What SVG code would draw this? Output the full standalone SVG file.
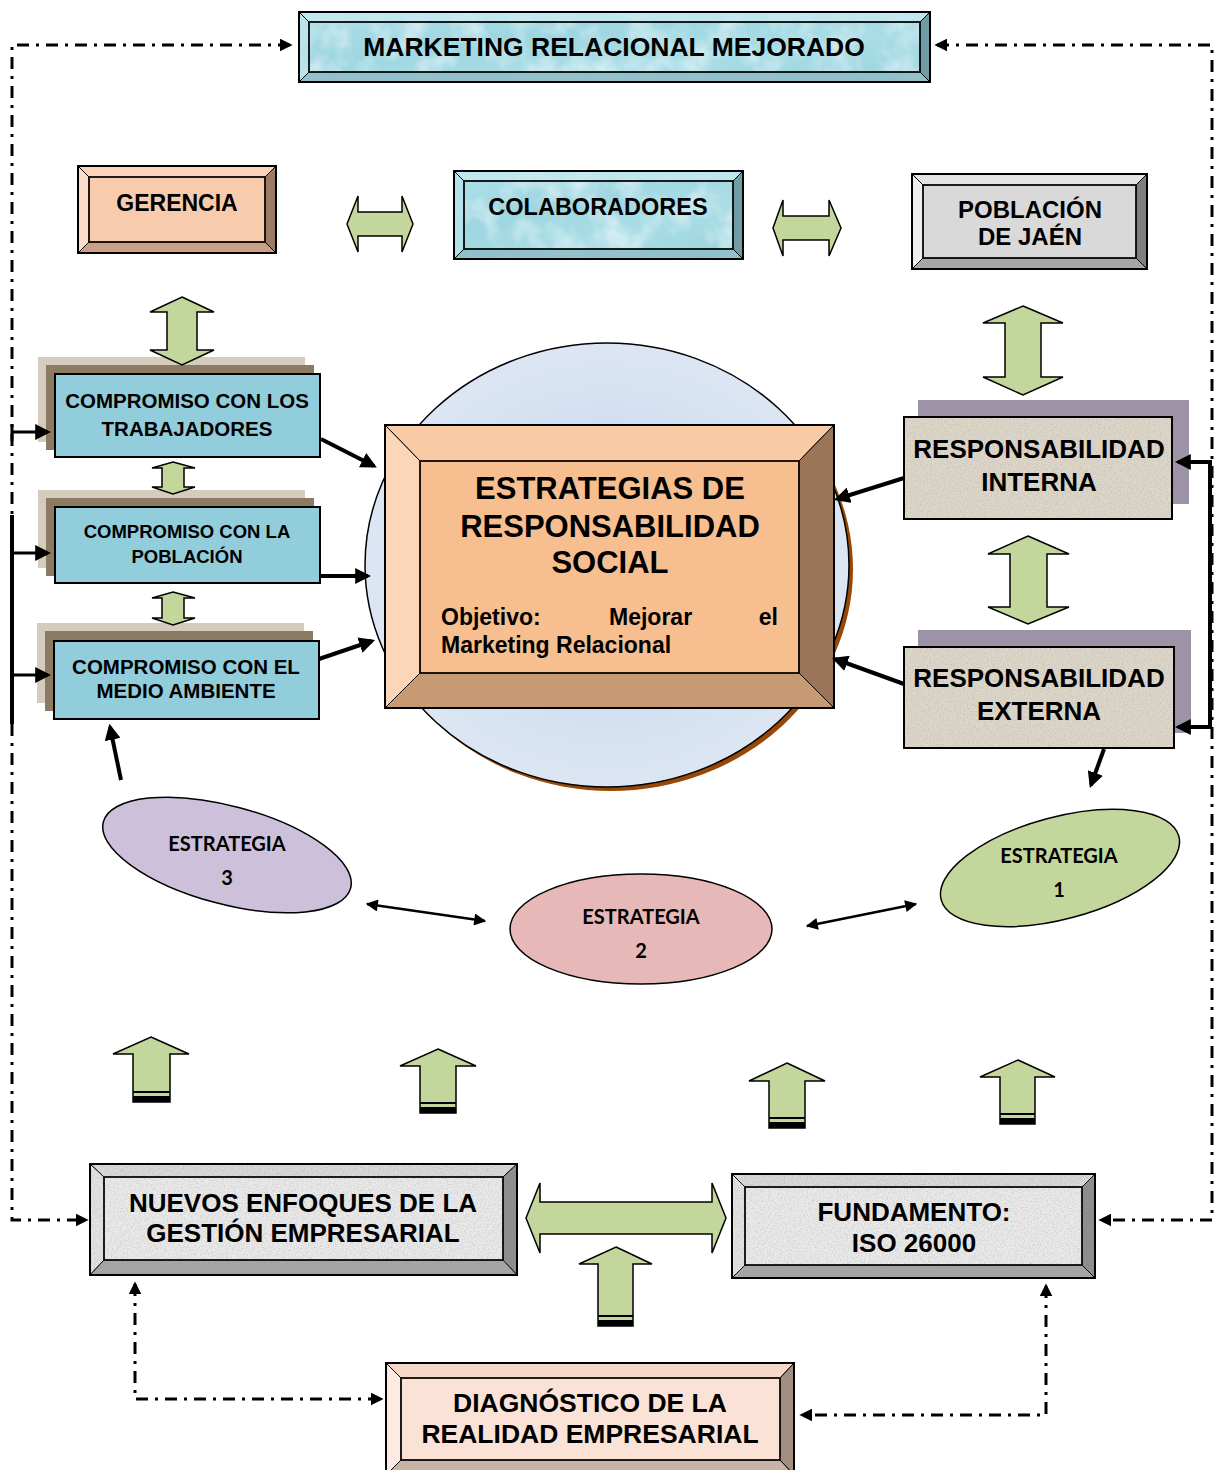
<svg xmlns="http://www.w3.org/2000/svg" width="1216" height="1470" viewBox="0 0 1216 1470">
<defs>
<style>
.t{font-family:"Liberation Sans",Arial,sans-serif;font-weight:bold;fill:#000;text-anchor:middle}
.c{font-family:Lato,"Liberation Sans",sans-serif;font-weight:bold;fill:#000;text-anchor:middle;font-size:20px}
.bv{stroke:#000;stroke-width:1}
.ol{fill:none;stroke:#000;stroke-width:2}
.ga{fill:#C3D69B;stroke:#000;stroke-width:1.5}
.dd{fill:none;stroke:#000;stroke-width:3;stroke-dasharray:12 7 3 7}
.sk{fill:none;stroke:#000;stroke-width:4}
.th{fill:none;stroke:#000;stroke-width:2.5}
.gr{fill:#000;filter:url(#grain)}
.bl{fill:#000;filter:url(#blot)}
</style>
<filter id="grain" x="0" y="0" width="1" height="1">
<feTurbulence type="fractalNoise" baseFrequency="0.7" numOctaves="2" seed="3" result="n"/>
<feColorMatrix in="n" type="matrix" values="0 0 0 0 0.35  0 0 0 0 0.35  0 0 0 0 0.35  0.9 0 0 0 -0.38" result="c"/>
<feComposite in="c" in2="SourceGraphic" operator="in"/>
</filter>
<filter id="blot" x="0" y="0" width="1" height="1">
<feTurbulence type="fractalNoise" baseFrequency="0.035" numOctaves="3" seed="7" result="n"/>
<feColorMatrix in="n" type="matrix" values="0 0 0 0 1  0 0 0 0 1  0 0 0 0 1  1.3 0 0 0 -0.55" result="c"/>
<feComposite in="c" in2="SourceGraphic" operator="in"/>
</filter>
<marker id="ah" markerUnits="userSpaceOnUse" viewBox="0 0 10 10" refX="8" refY="5" markerWidth="16" markerHeight="16" orient="auto-start-reverse"><path d="M0,0 L10,5 L0,10 z"/></marker>
<marker id="ad" markerUnits="userSpaceOnUse" viewBox="0 0 10 10" refX="8" refY="5" markerWidth="13" markerHeight="13" orient="auto-start-reverse"><path d="M0,0 L10,5 L0,10 z"/></marker>
<marker id="at" markerUnits="userSpaceOnUse" viewBox="0 0 10 10" refX="9" refY="5" markerWidth="14" markerHeight="12" orient="auto-start-reverse"><path d="M0,0 L10,5 L0,10 z"/></marker>
<linearGradient id="aqua" x1="0" y1="0" x2="1" y2="1">
<stop offset="0" stop-color="#B0E1EA"/><stop offset="0.35" stop-color="#9ED6E1"/><stop offset="0.65" stop-color="#AADDE6"/><stop offset="1" stop-color="#98D2DD"/>
</linearGradient>
<radialGradient id="rg" cx="0.5" cy="0.5" r="0.5">
<stop offset="0" stop-color="#C3D3EE"/><stop offset="1" stop-color="#DCE6F3"/>
</radialGradient>
</defs>

<!-- banner -->
<g id="marketing">
<rect x="299" y="12" width="631" height="70" fill="url(#aqua)"/>
<rect class="bl" x="299" y="12" width="631" height="70"/>
<polygon class="bv" points="299,12 930,12 920,22 309,22" fill="#C4E8EF" fill-opacity="0.85"/>
<polygon class="bv" points="299,12 309,22 309,72 299,82" fill="#B7E2EA" fill-opacity="0.85"/>
<polygon class="bv" points="930,12 930,82 920,72 920,22" fill="#6F9CA5"/>
<polygon class="bv" points="299,82 309,72 920,72 930,82" fill="#8EBEC7" fill-opacity="0.9"/>
<rect class="ol" x="309" y="22" width="611" height="50" style="stroke-width:1.5"/>
<rect class="ol" x="299" y="12" width="631" height="70"/>
<text class="t" x="614" y="56" font-size="26.5">MARKETING RELACIONAL MEJORADO</text>
</g>

<g id="gerencia">
<rect x="78" y="166" width="198" height="87" fill="#F8CBAD"/>
<polygon class="bv" points="78,166 276,166 265,177 89,177" fill="#F9D3BA"/>
<polygon class="bv" points="78,166 89,177 89,242 78,253" fill="#FCDDC9"/>
<polygon class="bv" points="276,166 276,253 265,242 265,177" fill="#9C7B66"/>
<polygon class="bv" points="78,253 89,242 265,242 276,253" fill="#C9A189"/>
<rect class="ol" x="89" y="177" width="176" height="65" style="stroke-width:1.5"/>
<rect class="ol" x="78" y="166" width="198" height="87"/>
<text class="t" x="177" y="211" font-size="23">GERENCIA</text>
</g>

<g id="colaboradores">
<rect x="454" y="171" width="289" height="88" fill="url(#aqua)"/>
<rect class="bl" x="454" y="171" width="289" height="88"/>
<polygon class="bv" points="454,171 743,171 733,181 464,181" fill="#C4E8EF" fill-opacity="0.85"/>
<polygon class="bv" points="454,171 464,181 464,249 454,259" fill="#B7E2EA" fill-opacity="0.85"/>
<polygon class="bv" points="743,171 743,259 733,249 733,181" fill="#6F9CA5"/>
<polygon class="bv" points="454,259 464,249 733,249 743,259" fill="#8EBEC7" fill-opacity="0.9"/>
<rect class="ol" x="464" y="181" width="269" height="68" style="stroke-width:1.5"/>
<rect class="ol" x="454" y="171" width="289" height="88"/>
<text class="t" x="598" y="215" font-size="23.5">COLABORADORES</text>
</g>

<g id="poblacion">
<rect x="912" y="174" width="235" height="95" fill="#D9D9D9"/>
<polygon class="bv" points="912,174 1147,174 1136,185 923,185" fill="#E4E4E4"/>
<polygon class="bv" points="912,174 923,185 923,258 912,269" fill="#EFEFEF"/>
<polygon class="bv" points="1147,174 1147,269 1136,258 1136,185" fill="#7F7F7F"/>
<polygon class="bv" points="912,269 923,258 1136,258 1147,269" fill="#A6A6A6"/>
<rect class="ol" x="923" y="185" width="213" height="73" style="stroke-width:1.5"/>
<rect class="ol" x="912" y="174" width="235" height="95"/>
<text class="t" x="1030" y="218" font-size="24">POBLACIÓN</text>
<text class="t" x="1030" y="245" font-size="24">DE JAÉN</text>
</g>

<g id="comp-trabajadores">
<rect x="38" y="357" width="267" height="85" fill="#D5CCBD"/>
<rect x="46" y="365" width="268" height="85" fill="#8B7B63"/>
<rect x="55" y="374" width="265" height="83" fill="#92CDDC" stroke="#000" stroke-width="2"/>
<text class="t" x="187" y="408" font-size="20.5">COMPROMISO CON LOS</text>
<text class="t" x="187" y="436" font-size="20.5">TRABAJADORES</text>
</g>

<g id="comp-poblacion">
<rect x="38" y="490" width="267" height="78" fill="#D5CCBD"/>
<rect x="46" y="498" width="268" height="78" fill="#8B7B63"/>
<rect x="55" y="507" width="265" height="76" fill="#92CDDC" stroke="#000" stroke-width="2"/>
<text class="t" x="187" y="538" font-size="18.5">COMPROMISO CON LA</text>
<text class="t" x="187" y="563" font-size="18.5">POBLACIÓN</text>
</g>

<g id="comp-ambiente">
<rect x="37" y="623" width="267" height="80" fill="#D5CCBD"/>
<rect x="45" y="631" width="268" height="80" fill="#8B7B63"/>
<rect x="54" y="641" width="265" height="78" fill="#92CDDC" stroke="#000" stroke-width="2"/>
<text class="t" x="186" y="674" font-size="20.5">COMPROMISO CON EL</text>
<text class="t" x="186" y="698" font-size="20.5">MEDIO AMBIENTE</text>
</g>

<g id="estrategias-rs">
<ellipse cx="611" cy="569" rx="242" ry="222" fill="#984806"/>
<ellipse cx="607" cy="565" rx="242" ry="222" fill="url(#rg)" stroke="#000" stroke-width="1.5"/>
<rect x="385" y="425" width="449" height="283" fill="#F7BE8F"/>
<polygon class="bv" points="385,425 834,425 799,461 420,461" fill="#F9CBA5"/>
<polygon class="bv" points="385,425 420,461 420,673 385,708" fill="#FBD6B8"/>
<polygon class="bv" points="834,425 834,708 799,673 799,461" fill="#9A7557"/>
<polygon class="bv" points="385,708 420,673 799,673 834,708" fill="#C89A73"/>
<rect class="ol" x="420" y="461" width="379" height="212" style="stroke-width:1.5"/>
<rect class="ol" x="385" y="425" width="449" height="283"/>
<text class="t" x="610" y="499" font-size="31">ESTRATEGIAS DE</text>
<text class="t" x="610" y="537" font-size="31">RESPONSABILIDAD</text>
<text class="t" x="610" y="573" font-size="31">SOCIAL</text>
<text class="t" x="441" y="625" font-size="23" style="text-anchor:start">Objetivo:</text>
<text class="t" x="609" y="625" font-size="23" style="text-anchor:start">Mejorar</text>
<text class="t" x="778" y="625" font-size="23" style="text-anchor:end">el</text>
<text class="t" x="441" y="653" font-size="23" style="text-anchor:start">Marketing Relacional</text>
</g>

<g id="resp-interna">
<rect x="918" y="400" width="271" height="104" fill="#9C93A6"/>
<rect x="904" y="417" width="268" height="102" fill="#DED7C9"/>
<rect class="gr" x="904" y="417" width="268" height="102"/>
<rect class="ol" x="904" y="417" width="268" height="102"/>
<text class="t" x="1039" y="458" font-size="26">RESPONSABILIDAD</text>
<text class="t" x="1039" y="491" font-size="26">INTERNA</text>
</g>

<g id="resp-externa">
<rect x="918" y="630" width="273" height="103" fill="#9C93A6"/>
<rect x="904" y="647" width="270" height="101" fill="#DED7C9"/>
<rect class="gr" x="904" y="647" width="270" height="101"/>
<rect class="ol" x="904" y="647" width="270" height="101"/>
<text class="t" x="1039" y="687" font-size="26">RESPONSABILIDAD</text>
<text class="t" x="1039" y="720" font-size="26">EXTERNA</text>
</g>

<g id="estrategia-3">
<ellipse cx="227" cy="855" rx="128" ry="49" transform="rotate(15 227 855)" fill="#CCC0DA" stroke="#000" stroke-width="1.5"/>
<text class="c" x="227" y="851">ESTRATEGIA</text>
<text class="c" x="227" y="885">3</text>
</g>

<g id="estrategia-2">
<ellipse cx="641" cy="929" rx="131" ry="55" fill="#E6B8B7" stroke="#000" stroke-width="1.5"/>
<text class="c" x="641" y="924">ESTRATEGIA</text>
<text class="c" x="641" y="958">2</text>
</g>

<g id="estrategia-1">
<ellipse cx="1060" cy="868" rx="123" ry="51" transform="rotate(-15 1060 868)" fill="#C3D69B" stroke="#000" stroke-width="1.5"/>
<text class="c" x="1059" y="863">ESTRATEGIA</text>
<text class="c" x="1059" y="897">1</text>
</g>

<g id="nuevos-enfoques">
<rect x="90" y="1164" width="427" height="111" fill="#EAEAEA"/>
<polygon class="bv" points="90,1164 517,1164 503,1177 104,1177" fill="#D9D9D9"/>
<polygon class="bv" points="90,1164 104,1177 104,1260 90,1275" fill="#E3E3E3"/>
<polygon class="bv" points="517,1164 517,1275 503,1260 503,1177" fill="#8C8C8C"/>
<polygon class="bv" points="90,1275 104,1260 503,1260 517,1275" fill="#A5A5A5"/>
<rect class="gr" x="90" y="1164" width="427" height="111"/>
<rect class="ol" x="104" y="1177" width="399" height="83" style="stroke-width:1.5"/>
<rect class="ol" x="90" y="1164" width="427" height="111"/>
<text class="t" x="303" y="1212" font-size="26">NUEVOS ENFOQUES DE LA</text>
<text class="t" x="303" y="1242" font-size="26">GESTIÓN EMPRESARIAL</text>
</g>

<g id="fundamento">
<rect x="732" y="1174" width="363" height="104" fill="#EAEAEA"/>
<polygon class="bv" points="732,1174 1095,1174 1082,1187 745,1187" fill="#D9D9D9"/>
<polygon class="bv" points="732,1174 745,1187 745,1265 732,1278" fill="#E3E3E3"/>
<polygon class="bv" points="1095,1174 1095,1278 1082,1265 1082,1187" fill="#8C8C8C"/>
<polygon class="bv" points="732,1278 745,1265 1082,1265 1095,1278" fill="#A5A5A5"/>
<rect class="gr" x="732" y="1174" width="363" height="104"/>
<rect class="ol" x="745" y="1187" width="337" height="78" style="stroke-width:1.5"/>
<rect class="ol" x="732" y="1174" width="363" height="104"/>
<text class="t" x="914" y="1221" font-size="26">FUNDAMENTO:</text>
<text class="t" x="914" y="1252" font-size="26">ISO 26000</text>
</g>

<g id="diagnostico">
<rect x="386" y="1363" width="408" height="112" fill="#FAE3D6"/>
<polygon class="bv" points="386,1363 794,1363 780,1378 401,1378" fill="#F6D8C9"/>
<polygon class="bv" points="386,1363 401,1378 401,1460 386,1475" fill="#FCEBE2"/>
<polygon class="bv" points="794,1363 794,1475 780,1460 780,1378" fill="#A38E82"/>
<polygon class="bv" points="386,1475 401,1460 780,1460 794,1475" fill="#C8B3A8"/>
<rect class="ol" x="401" y="1378" width="379" height="82" style="stroke-width:1.5"/>
<rect class="ol" x="386" y="1363" width="408" height="112"/>
<text class="t" x="590" y="1412" font-size="26.5">DIAGNÓSTICO DE LA</text>
<text class="t" x="590" y="1443" font-size="26.5">REALIDAD EMPRESARIAL</text>
</g>

<!-- connectors -->
<g id="connectors">
<path class="dd" d="M290,45 L12,45 L12,1220 L86,1220" marker-start="url(#ad)" marker-end="url(#ad)"/>
<path class="dd" d="M937,45 L1212,45 L1212,1220 L1101,1220" marker-start="url(#ad)" marker-end="url(#ad)"/>
<path class="dd" d="M135,1284 L135,1399 L381,1399" marker-start="url(#ad)" marker-end="url(#ad)"/>
<path class="dd" d="M1046,1286 L1046,1415 L802,1415" marker-start="url(#ad)" marker-end="url(#ad)"/>
<path class="sk" d="M12,515 L12,724"/>
<path d="M12,424 L12,441" stroke="#000" stroke-width="3"/>
<path class="th" d="M12,432 L48,432" marker-end="url(#ah)" style="stroke-width:3"/>
<path class="th" d="M12,553 L48,553" marker-end="url(#ah)" style="stroke-width:3"/>
<path class="th" d="M12,675 L48,675" marker-end="url(#ah)" style="stroke-width:3"/>
<path class="sk" d="M1178,462 L1210,462 L1210,727 L1178,727" marker-start="url(#ah)" marker-end="url(#ah)"/>
<path class="sk" d="M321,439 L374,466" marker-end="url(#ah)"/>
<path class="sk" d="M320,576 L368,576" marker-end="url(#ah)"/>
<path class="sk" d="M319,659 L372,641" marker-end="url(#ah)"/>
<path class="sk" d="M904,478 L837,499" marker-end="url(#ah)"/>
<path class="sk" d="M904,684 L835,659" marker-end="url(#ah)"/>
<path class="sk" d="M1104,749 L1091,785" marker-end="url(#ah)"/>
<path class="sk" d="M121,780 L110,727" marker-end="url(#ah)"/>
<path class="th" d="M367,904 L485,921" marker-start="url(#at)" marker-end="url(#at)"/>
<path class="th" d="M807,926 L916,904" marker-start="url(#at)" marker-end="url(#at)"/>
<!-- green block arrows -->
<path class="ga" d="M347,224 L358,196 L358,212 L402,212 L402,196 L413,224 L402,252 L402,236 L358,236 L358,252 Z"/>
<path class="ga" d="M773,228 L783,200 L783,216 L829,216 L829,200 L841,228 L829,256 L829,240 L783,240 L783,256 Z"/>
<path class="ga" d="M182,297 L214,312 L197,312 L197,350 L214,350 L182,365 L150,350 L167,350 L167,312 L150,312 Z"/>
<path class="ga" d="M1023,306 L1063,323 L1041,323 L1041,377 L1063,377 L1023,395 L983,377 L1005,377 L1005,323 L983,323 Z"/>
<path class="ga" d="M1028,536 L1069,554 L1047,554 L1047,607 L1069,607 L1028,624 L988,607 L1010,607 L1010,554 L988,554 Z"/>
<path class="ga" d="M173,462 L195,468 L184,468 L184,487 L195,487 L173,494 L152,487 L162,487 L162,468 L152,468 Z"/>
<path class="ga" d="M173,592 L195,598 L184,598 L184,618 L195,618 L173,625 L152,618 L162,618 L162,598 L152,598 Z"/>
<path class="ga" d="M526,1218 L540,1183 L540,1202 L712,1202 L712,1183 L726,1218 L712,1253 L712,1234 L540,1234 L540,1253 Z"/>
<g id="up-arrows">
<path class="ga" d="M151,1037 L189,1054 L170,1054 L170,1102 L133,1102 L133,1054 L113,1054 Z"/>
<rect x="133" y="1091" width="37" height="2" fill="#000"/><rect x="133" y="1096" width="37" height="6" fill="#000"/>
<path class="ga" d="M438,1049 L476,1066 L456,1066 L456,1113 L420,1113 L420,1066 L400,1066 Z"/>
<rect x="420" y="1102" width="36" height="2" fill="#000"/><rect x="420" y="1107" width="36" height="6" fill="#000"/>
<path class="ga" d="M787,1063 L825,1081 L805,1081 L805,1128 L769,1128 L769,1081 L749,1081 Z"/>
<rect x="769" y="1117" width="36" height="2" fill="#000"/><rect x="769" y="1122" width="36" height="6" fill="#000"/>
<path class="ga" d="M1018,1060 L1055,1077 L1035,1077 L1035,1124 L1000,1124 L1000,1077 L980,1077 Z"/>
<rect x="1000" y="1113" width="35" height="2" fill="#000"/><rect x="1000" y="1118" width="35" height="6" fill="#000"/>
<path class="ga" d="M616,1247 L652,1264 L633,1264 L633,1326 L598,1326 L598,1264 L579,1264 Z"/>
<rect x="598" y="1315" width="35" height="2" fill="#000"/><rect x="598" y="1320" width="35" height="6" fill="#000"/>
</g>
</g>
</svg>
